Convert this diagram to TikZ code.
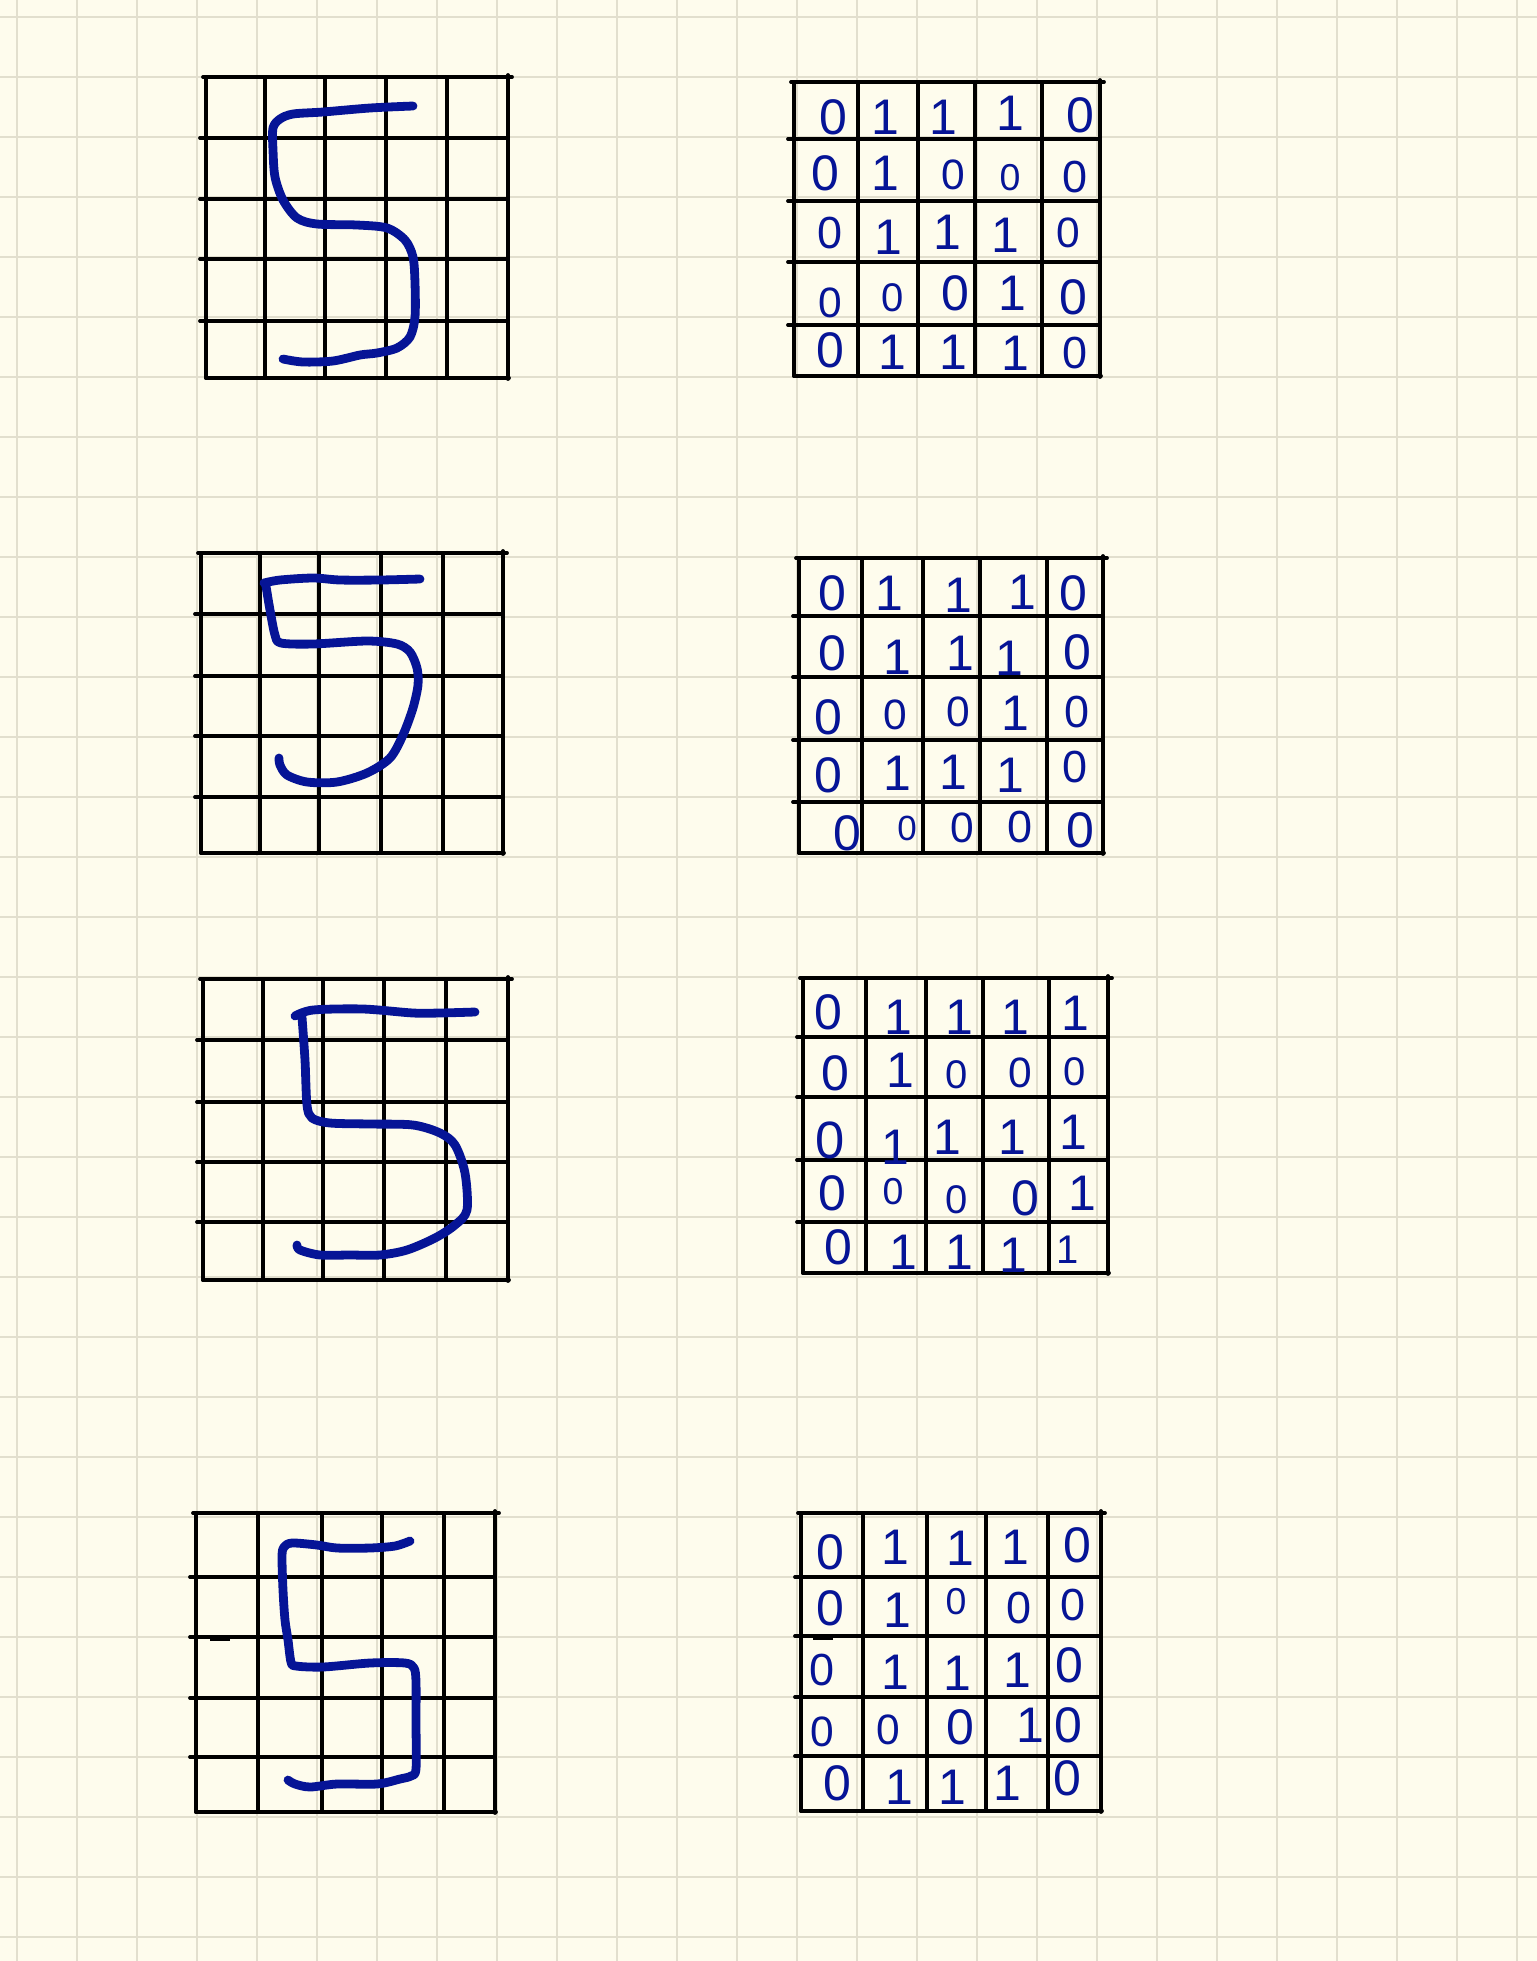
\documentclass[tikz,border=0pt]{standalone}
\usepackage{fontspec}
\newfontfamily\digfont{Liberation Sans}
\definecolor{paper}{RGB}{254,252,237}
\definecolor{rulegray}{RGB}{226,223,206}
\definecolor{penblue}{RGB}{6,20,150}
\newcommand\handgrid[6]{%
  \draw[ink] (#1-3,#3) -- (#2+4,#3);
  \draw[ink] (#1,#4) -- (#2+1,#4);
  \draw[ink] (#1,#3) -- (#1,#4);
  \draw[ink] (#2,#3-2) -- (#2,#4+1);
  \foreach \gx in {#5} \draw[ink] (\gx,#3+2) -- (\gx,#4-2);
  \foreach \gy in {#6} \draw[ink] (#1-6,\gy) -- (#2-1,\gy);
}
\begin{document}
\begin{tikzpicture}[x=0.5pt,y=-0.5pt,
  ink/.style={line width=1.9pt, black, line cap=round},
  pen/.style={line width=4.4pt, penblue, line cap=round, line join=round},
  dig/.style={text=penblue, inner sep=0pt, font=\digfont\fontsize{25}{25}\selectfont}]
\fill[paper] (0,0) rectangle (1537,1961);
\useasboundingbox (0,0) rectangle (1537,1961);
\foreach \i in {0,...,25} \draw[rulegray, line width=1pt] (17+60*\i,0) -- (17+60*\i,1961);
\foreach \i in {0,...,32} \draw[rulegray, line width=1pt] (0,17+60*\i) -- (1537,17+60*\i);

% ---------- hand-drawn 5x5 grids ----------
\handgrid{206}{508}{77}{378}{265,325,386,447}{138,199,259,321}
\handgrid{794}{1100}{82}{376}{858,918,975,1042}{139,201,262,325}
\handgrid{201}{503}{553}{853}{260,319,381,443}{614,676,736,797}
\handgrid{799}{1103}{558}{853}{862,923,980,1047}{616,677,740,802}
\handgrid{203}{508}{979}{1280}{263,323,384,446}{1040,1102,1162,1222}
\handgrid{803}{1108}{978}{1273}{866,926,983,1049}{1037,1097,1160,1222}
\handgrid{196}{495}{1513}{1812}{258,322,382,444}{1577,1637,1698,1757}
\handgrid{801}{1101}{1513}{1811}{863,927,986,1048}{1577,1636,1697,1756}
\draw[black, line width=2.5pt] (210,1638) -- (230,1638);
\draw[black, line width=2.5pt] (813,1637) -- (833,1637);

% ---------- the handwritten fives ----------
\draw[pen] plot[smooth, tension=0.5] coordinates {(413,106) (370,108) (323,112) (293,114) (280,119) (273,128) (273,150) (275,177) (283,200) (297,218) (317,224) (357,225) (387,228) (405,240) (413,257) (415,283) (415,317) (410,337) (397,348) (377,353) (360,355) (333,361) (303,362) (283,359)};
\draw[pen] plot[smooth, tension=0.5] coordinates {(420,579) (380,580) (340,580) (313,578) (280,580) (264,583)};
\draw[pen] plot[smooth, tension=0.5] coordinates {(266,586) (270,610) (275,635) (281,643) (313,644) (367,641) (397,644) (410,652) (417,668) (418,685) (413,708) (403,735) (390,758) (367,773) (337,782) (307,782) (287,775) (280,765) (279,758)};
\draw[pen] plot[smooth, tension=0.5] coordinates {(475,1012) (440,1013) (413,1013) (363,1009) (313,1010) (295,1016)};
\draw[pen] plot[smooth, tension=0.5] coordinates {(302,1017) (305,1060) (307,1105) (312,1118) (330,1123) (370,1124) (413,1125) (440,1133) (455,1145) (465,1173) (467,1210) (455,1225) (435,1238) (407,1250) (380,1255) (350,1255) (320,1255) (300,1250) (297,1245)};
\draw[pen] plot[smooth, tension=0.5] coordinates {(410,1541) (395,1546) (370,1548) (337,1548) (317,1545) (292,1543) (284,1547) (282,1556) (283,1590) (285,1620) (288,1640) (291,1662) (296,1666) (323,1667) (370,1663) (405,1663) (414,1668) (416,1682) (416,1723) (416,1769) (411,1776) (400,1779) (377,1784) (337,1784) (310,1787) (295,1784) (288,1780)};

% ---------- digit tables ----------
\foreach \x/\y/\d/\s [count=\i] in {
  833/117/0/1, 885/117/1/1, 943/117/1/1, 1010/113/1/1, 1080/115/0/1,
  825/173/0/1, 885/173/1/1, 953/175/0/0.85, 1010/178/0/0.75, 1075/177/0/0.9,
  830/233/0/0.9, 888/237/1/1, 947/232/1/1, 1005/235/1/1, 1068/233/0/0.85,
  830/303/0/0.85, 893/298/0/0.8, 955/293/0/1, 1012/293/1/1, 1073/297/0/1,
  830/350/0/1, 892/352/1/1, 953/352/1/1, 1015/353/1/1, 1075/353/0/0.9}
  \node[dig, scale=\s] (ta-\i) at (\x,\y) {\d};
\foreach \x/\y/\d/\s [count=\i] in {
  832/593/0/1, 889/593/1/1, 958/595/1/1, 1022/592/1/1, 1073/593/0/1,
  832/653/0/1, 897/657/1/1, 960/653/1/1, 1009/658/1/1, 1077/652/0/1,
  828/717/0/1, 895/715/0/0.85, 958/712/0/0.85, 1015/713/1/1, 1077/712/0/0.9,
  828/775/0/1, 897/773/1/1, 953/772/1/1, 1010/775/1/1, 1075/767/0/0.9,
  847/833/0/1, 907/828/0/0.7, 962/828/0/0.85, 1020/827/0/0.9, 1080/830/0/1}
  \node[dig, scale=\s] (tb-\i) at (\x,\y) {\d};
\foreach \x/\y/\d/\s [count=\i] in {
  828/1012/0/1, 898/1017/1/1, 959/1017/1/1, 1015/1017/1/1, 1075/1013/1/1,
  835/1073/0/1, 900/1070/1/1, 957/1075/0/0.8, 1020/1073/0/0.85, 1075/1072/0/0.8,
  830/1140/0/1.05, 895/1147/1/1, 947/1137/1/1, 1012/1137/1/1, 1073/1132/1/1,
  832/1193/0/1, 893/1192/0/0.75, 957/1200/0/0.8, 1025/1198/0/1, 1082/1193/1/1,
  838/1247/0/1, 903/1252/1/1, 959/1252/1/1, 1013/1255/1/1, 1068/1250/1/0.8}
  \node[dig, scale=\s] (tc-\i) at (\x,\y) {\d};
\foreach \x/\y/\d/\s [count=\i] in {
  830/1552/0/1, 895/1547/1/1, 960/1548/1/1, 1015/1547/1/1, 1077/1545/0/1,
  830/1608/0/1, 897/1610/1/1, 956/1602/0/0.75, 1019/1608/0/0.9, 1073/1605/0/0.9,
  822/1670/0/0.9, 895/1672/1/1, 957/1673/1/1, 1017/1670/1/1, 1069/1665/0/1,
  822/1732/0/0.85, 888/1730/0/0.85, 960/1727/0/1, 1030/1725/1/1, 1068/1725/0/1,
  837/1783/0/1, 899/1787/1/1, 952/1787/1/1, 1007/1783/1/1, 1067/1778/0/1}
  \node[dig, scale=\s] (td-\i) at (\x,\y) {\d};
\end{tikzpicture}
\end{document}
